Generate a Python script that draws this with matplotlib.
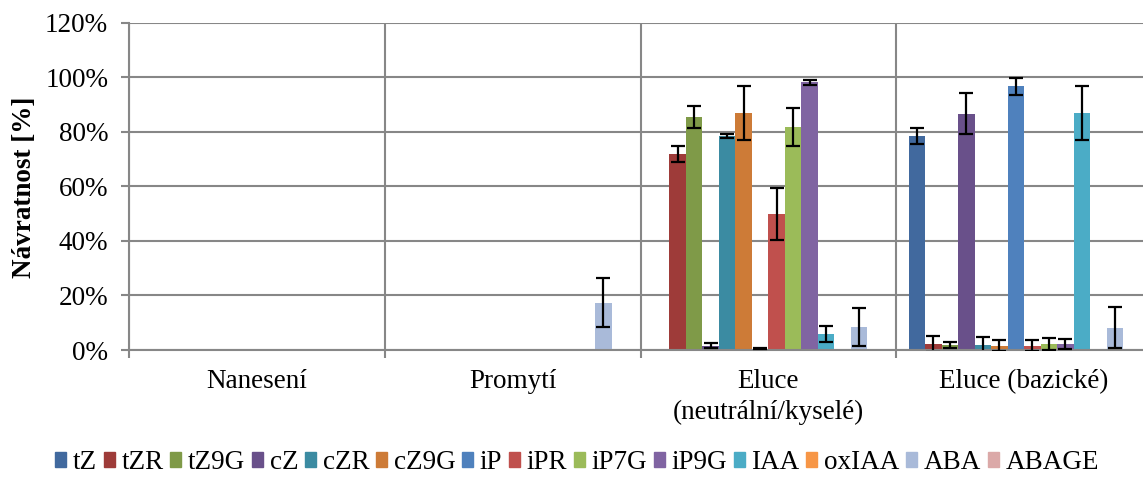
import numpy as np, matplotlib
matplotlib.use("Agg"); import matplotlib.pyplot as plt
from matplotlib.patches import Patch
plt.rcParams.update({"font.family":["Liberation Serif","DejaVu Serif"],"figure.dpi":100})

categories=["Nanesení","Promytí","Eluce\n(neutrální/kyselé)","Eluce (bazické)"]
series=["tZ","tZR","tZ9G","cZ","cZR","cZ9G","iP","iPR","iP7G","iP9G","IAA","oxIAA","ABA","ABAGE"]
# recovery [%] per series, one value per category
tZ   =[0,0,0,78.5];    tZ_err   =[0,0,0,3]
tZR  =[0,0,71.8,2.2];  tZR_err  =[0,0,3,3]
tZ9G =[0,0,85.4,1.8];  tZ9G_err =[0,0,4,1]
cZ   =[0,0,1.6,86.6];  cZ_err   =[0,0,1,7.6]
cZR  =[0,0,78.4,1.8];  cZR_err  =[0,0,0.7,3]
cZ9G =[0,0,86.8,1.6];  cZ9G_err =[0,0,9.8,2]
iP   =[0,0,0.4,96.6];  iP_err   =[0,0,0.15,3]
iPR  =[0,0,49.8,1.5];  iPR_err  =[0,0,9.6,2]
iP7G =[0,0,81.6,2.2];  iP7G_err =[0,0,7,2.3]
iP9G =[0,0,98.1,2.2];  iP9G_err =[0,0,1,2]
IAA  =[0,0,5.9,86.8];  IAA_err  =[0,0,3,9.8]
oxIAA=[0,0,0,0];       oxIAA_err=[0,0,0,0]
ABA  =[0,17.4,8.3,8.2];ABA_err  =[0,9,7,7.5]
ABAGE=[0,0,0,0];       ABAGE_err=[0,0,0,0]
values=[tZ,tZR,tZ9G,cZ,cZR,cZ9G,iP,iPR,iP7G,iP9G,IAA,oxIAA,ABA,ABAGE]
errors=[tZ_err,tZR_err,tZ9G_err,cZ_err,cZR_err,cZ9G_err,iP_err,iPR_err,iP7G_err,iP9G_err,IAA_err,oxIAA_err,ABA_err,ABAGE_err]
colors=["#41699e","#9e3b39","#7f9a48","#69508a","#3b8ba2","#cd7b37","#4f81bd","#c0504d",
        "#9bbb59","#8064a2","#4bacc6","#f79646","#a9bad9","#dba9a8"]

GRID="#878787"; FS=19.5
fig=plt.figure(figsize=(11.43,4.78))
ax=fig.add_axes([129/1143,1-350/478,1023/1143,327.5/478])
x=np.arange(len(categories)); n=len(series); w=1/(n+1.5)
for i,(v,e,c) in enumerate(zip(values,errors,colors)):
    pos=x+(i-(n-1)/2)*w
    ax.bar(pos,v,w,color=c,zorder=2,edgecolor="none")
    m=np.array(e)>0
    ax.errorbar(pos[m],np.array(v)[m],yerr=np.array(e)[m],fmt="none",ecolor="black",
                elinewidth=1.6,capsize=5.2,capthick=1.6,zorder=3)

ax.set_xlim(-0.5,len(categories)-0.5); ax.set_ylim(0,120)
ax.set_yticks(np.arange(0,121,20)); ax.set_yticklabels([f"{t}%" for t in range(0,121,20)])
ax.set_xticks(x); ax.set_xticklabels(categories,linespacing=1.3)
ax.set_xticks(np.arange(-0.5,len(categories),1),minor=True)
ax.tick_params(axis="x",which="major",length=0,pad=14,labelsize=FS)
ax.tick_params(axis="x",which="minor",length=6,width=1.5,color=GRID)
ax.tick_params(axis="y",length=6,width=1.5,color=GRID,labelsize=FS,pad=9)
ax.grid(axis="y",color=GRID,lw=1.5,zorder=0)
ax.grid(axis="x",which="minor",color=GRID,lw=1.5,zorder=0)
for s in ["top","right"]: ax.spines[s].set_visible(False)
for s in ["left","bottom"]: ax.spines[s].set_color(GRID); ax.spines[s].set_linewidth(1.5)
fig.text(25/1143,1-187/478,"Návratnost [%]",rotation=90,ha="center",va="center",
         fontsize=FS,fontweight="bold")
fig.legend(handles=[Patch(color=c,label=s) for s,c in zip(series,colors)],loc="lower center",
           ncol=n,frameon=False,fontsize=FS,handlelength=0.4,handleheight=0.5,
           handletextpad=0.25,columnspacing=0.25,bbox_to_anchor=(0.505,-0.045))
fig.savefig("out.png",dpi=100)
